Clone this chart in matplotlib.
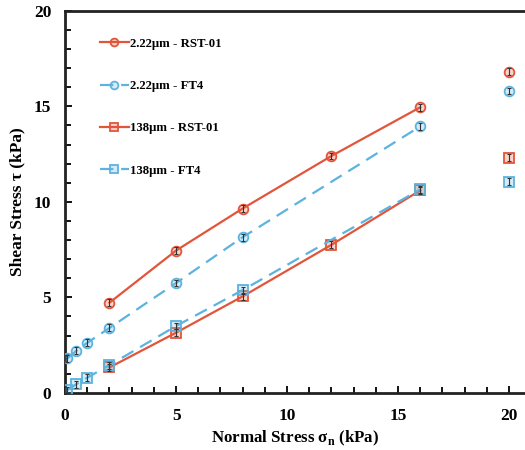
import matplotlib.pyplot as plt
from matplotlib.colors import to_rgba

# series data
x_rst_222 = [2, 5, 8, 12, 16]
y_rst_222 = [4.72, 7.45, 9.65, 12.4, 14.95]

x_ft4_222 = [0.1, 0.5, 1, 2, 5, 8, 16]
y_ft4_222 = [1.8, 2.2, 2.62, 3.4, 5.75, 8.15, 13.95]

x_rst_138 = [2, 5, 8, 12, 16]
y_rst_138 = [1.33, 3.15, 5.05, 7.75, 10.6]

x_ft4_138 = [0.1, 0.5, 1, 2, 5, 8, 16]
y_ft4_138 = [0.15, 0.45, 0.8, 1.45, 3.5, 5.38, 10.65]

# lone markers at the right edge
side_x = [20, 20, 20, 20]
side_y = [16.8, 15.8, 12.3, 11.05]

labels = ["2.22\u03bcm - RST-01", "2.22\u03bcm - FT4", "138\u03bcm - RST-01", "138\u03bcm - FT4"]
red = "#E2553A"
blue = "#5CB3DF"

plt.rcParams['font.family'] = ['Liberation Serif', 'DejaVu Serif']
plt.rcParams['font.weight'] = 'bold'
plt.rcParams['mathtext.fontset'] = 'custom'
plt.rcParams['mathtext.rm'] = 'Liberation Serif:bold'

fig = plt.figure(figsize=(5.25, 4.5), dpi=100)
ax = fig.add_axes([0.124, 0.127, 0.876, 0.849])

series = [
    (x_rst_222, y_rst_222, red, '-', 'o'),
    (x_ft4_222, y_ft4_222, blue, (0, (6, 3.5)), 'o'),
    (x_rst_138, y_rst_138, red, '-', 's'),
    (x_ft4_138, y_ft4_138, blue, (0, (6, 3.5)), 's'),
]
for (xs, ys, c, ls, m), lab in zip(series, labels):
    ax.errorbar(xs, ys, yerr=0.18, fmt='none', ecolor='#333333', elinewidth=0.8,
                capsize=1.5, capthick=0.8, zorder=4)
    ax.plot(xs, ys, color=c, linestyle=ls, linewidth=1.6, marker=m, markersize=7,
            markerfacecolor=to_rgba(c, 0.25), markeredgecolor=c, markeredgewidth=1.3,
            label=lab, zorder=3)

for sx, sy, (_, _, c, _, m) in zip(side_x, side_y, series):
    ax.errorbar(sx, sy, yerr=0.18, fmt='none', ecolor='#333333', elinewidth=0.8,
                capsize=1.5, capthick=0.8, zorder=4)
    ax.plot(sx, sy, linestyle='none', marker=m, markersize=7,
            markerfacecolor=to_rgba(c, 0.25), markeredgecolor=c, markeredgewidth=1.3, zorder=3)

ax.set_xlim(0, 20.72)
ax.set_ylim(0, 20)
ax.set_xticks([0, 5, 10, 15, 20])
ax.set_yticks([0, 5, 10, 15, 20])
ax.set_xticks(range(0, 21), minor=True)
ax.set_yticks(range(0, 21), minor=True)
ax.tick_params(which='both', direction='in', width=1.3, labelsize=12.5, pad=10)
ax.tick_params(which='major', length=5)
ax.tick_params(which='minor', length=4)
ax.tick_params(axis='x', pad=11)
for s in ['left', 'bottom', 'top']:
    ax.spines[s].set_linewidth(2)
    ax.spines[s].set_color('#222222')
ax.spines['right'].set_visible(False)

ax.set_xlabel(r"Normal Stress σ$_\mathregular{n}$ (kPa)", fontsize=12.2, fontweight='bold', labelpad=3)
ax.set_ylabel("Shear Stress \u03c4 (kPa)", fontsize=12.5, fontweight='bold', labelpad=6)

leg = ax.legend(loc='upper left', bbox_to_anchor=(0.05, 0.96), frameon=False,
                fontsize=9.2, labelspacing=2.38, handlelength=2.3, handletextpad=0.1,
                markerscale=0.8)
for t in leg.get_texts():
    t.set_fontweight('bold')

fig.savefig("out.png", dpi=100)
